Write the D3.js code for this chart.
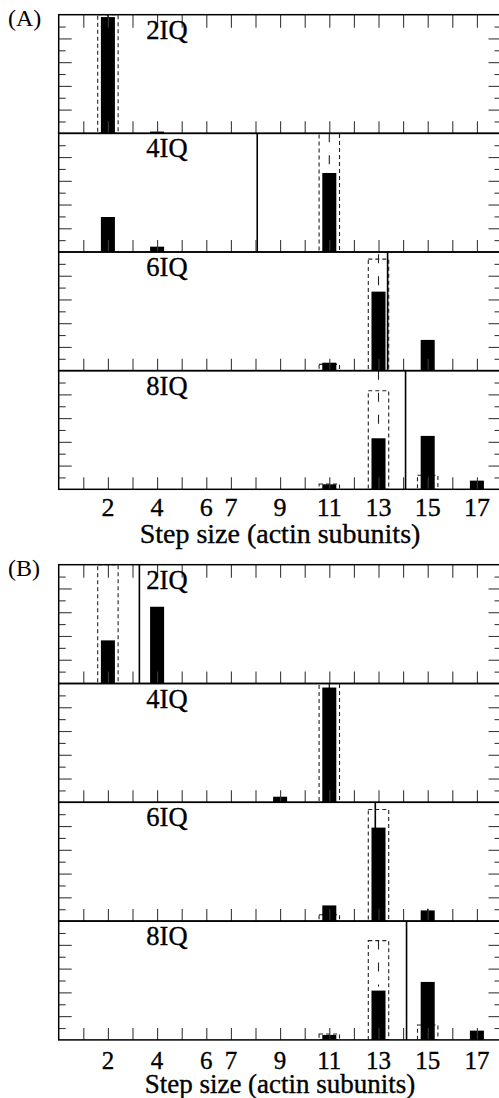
<!DOCTYPE html>
<html><head><meta charset="utf-8">
<script src="https://cdn.jsdelivr.net/npm/d3@7"></script>
<style>html,body{margin:0;padding:0;background:#fff;} svg{display:block;}</style>
</head><body>
<script>
// ---- data ----
const steps = d3.range(1, 18);
const tickLabels = [2, 4, 6, 7, 9, 11, 13, 15, 17];
const constructs = ["2IQ", "4IQ", "6IQ", "8IQ"];
const panelNames = ["(A)", "(B)"];

// measured step-size distributions (black bars)
const barsA = [
  [{s: 2, v: 0.98}, {s: 4, v: 0.015}],
  [{s: 2, v: 0.295}, {s: 4, v: 0.045}, {s: 11, v: 0.666}],
  [{s: 11, v: 0.067}, {s: 13, v: 0.666}, {s: 15, v: 0.259}],
  [{s: 11, v: 0.042}, {s: 13, v: 0.43}, {s: 15, v: 0.45}, {s: 17, v: 0.073}]
];
const barsB = [
  [{s: 2, v: 0.363}, {s: 4, v: 0.646}],
  [{s: 9, v: 0.047}, {s: 11, v: 0.966}],
  [{s: 11, v: 0.132}, {s: 13, v: 0.787}, {s: 15, v: 0.09}],
  [{s: 11, v: 0.042}, {s: 13, v: 0.415}, {s: 15, v: 0.488}, {s: 17, v: 0.078}]
];
// model predictions (dashed boxes)
const modelA = [
  [{s: 2, v: 1.0}],
  [{s: 11, v: 1.0}],
  [{s: 11, v: 0.053}, {s: 13, v: 0.94}],
  [{s: 11, v: 0.045}, {s: 13, v: 0.83}, {s: 15, v: 0.118}]
];
const modelB = [
  [{s: 2, v: 1.0}],
  [{s: 11, v: 1.0}],
  [{s: 11, v: 0.054}, {s: 13, v: 0.94}],
  [{s: 11, v: 0.05}, {s: 13, v: 0.836}, {s: 15, v: 0.126}]
];
// model error ranges (long-dash)
const modelErrA = [[], [{s: 11, lo: 0.73, hi: 1.0}], [{s: 13, lo: 0.68, hi: 0.98}], [{s: 13, lo: 0.45, hi: 1.0}]];
const modelErrB = [[], [], [], [{s: 13, lo: 0.45, hi: 0.836}]];
// data error bars (solid)
const dataErrA = [[{s: 2, lo: 0.96, hi: 1.0}], [], [], []];
const dataErrB = [[], [{s: 11, lo: 0.95, hi: 1.0}], [{s: 15, lo: 0.08, hi: 0.105}], []];
// vertical reference lines
const vlineA = [null, 8.07, 13.37, 14.1];
const vlineB = [3.28, null, 12.87, 14.14];

// ---- layout ----
const W = 499, H = 1098;
const panelTop = [14.7, 564.7];
const subH = [118.65, 118.8];
const tickLabelY = [515.5, 1069];
const axisLabelY = [543, 1092.5];
const tickFont = [26, 25];
const titleFont = [28, 27];
const panelLabelY = [26, 576];
const barW = 0.57, modelW = 0.83;

const x = d3.scaleLinear().domain([0, 18]).range([58.7, 501.5]);
const svg = d3.select("body").append("svg").attr("width", W).attr("height", H);
const defs = svg.append("defs");
const font = "'Liberation Serif', 'Times New Roman', serif";
const textStroke = sel => sel.attr("stroke", "#000").attr("stroke-width", 0.35);

const allBars = [barsA, barsB], allModel = [modelA, modelB];
const allModelErr = [modelErrA, modelErrB], allDataErr = [dataErrA, dataErrB];
const allVline = [vlineA, vlineB];

panelNames.forEach((pname, p) => {
  constructs.forEach((cname, i) => {
    const top = panelTop[p] + i * subH[p];
    const bot = top + subH[p];
    const y = d3.scaleLinear().domain([0, 1]).range([bot, top]);
    const g = svg.append("g");
    const cid = `clip${p}${i}`;
    defs.append("clipPath").attr("id", cid).append("rect")
      .attr("x", x(0)).attr("y", top).attr("width", x(18) - x(0)).attr("height", bot - top);
    const c = g.append("g").attr("clip-path", `url(#${cid})`);

    // ticks
    const tickStyle = sel => sel.selectAll(".tick line").attr("stroke", "#3a3a3a").attr("stroke-width", 1.1);
    const ax = g.append("g").attr("transform", `translate(0,${bot})`)
      .call(d3.axisBottom(x).tickValues(steps).tickSize(-12).tickFormat(""));
    ax.select(".domain").remove(); tickStyle(ax);
    if (i === 0) {
      const at = g.append("g").attr("transform", `translate(0,${top})`)
        .call(d3.axisTop(x).tickValues(steps).tickSize(-13).tickFormat(""));
      at.select(".domain").remove(); tickStyle(at);
    }
    const major = [0.2, 0.4, 0.6, 0.8], minor = [0.1, 0.3, 0.5, 0.7, 0.9];
    [[major, 13], [minor, 7]].forEach(([vals, len]) => {
      const l = g.append("g").attr("transform", `translate(${x(0)},0)`)
        .call(d3.axisLeft(y).tickValues(vals).tickSize(-len).tickFormat(""));
      l.select(".domain").remove(); tickStyle(l);
      const r = g.append("g").attr("transform", `translate(${x(18)},0)`)
        .call(d3.axisRight(y).tickValues(vals).tickSize(-len).tickFormat(""));
      r.select(".domain").remove(); tickStyle(r);
    });

    // model dashed boxes
    c.selectAll(".model").data(allModel[p][i]).join("rect")
      .attr("x", d => x(d.s - modelW / 2)).attr("width", x(modelW) - x(0))
      .attr("y", d => y(d.v)).attr("height", d => y(0) - y(d.v))
      .attr("fill", "none").attr("stroke", "#222").attr("stroke-width", 1.1)
      .attr("stroke-dasharray", "4,3");
    // model error (long dash)
    c.selectAll(".merr").data(allModelErr[p][i]).join("line")
      .attr("x1", d => x(d.s)).attr("x2", d => x(d.s))
      .attr("y1", d => y(d.hi)).attr("y2", d => y(d.lo))
      .attr("stroke", "#222").attr("stroke-width", 1.1).attr("stroke-dasharray", "9,13");
    // vertical reference line
    if (allVline[p][i] !== null) {
      c.append("line").attr("x1", x(allVline[p][i])).attr("x2", x(allVline[p][i]))
        .attr("y1", top).attr("y2", bot).attr("stroke", "#000").attr("stroke-width", 1.6);
    }
    // bars
    c.selectAll(".bar").data(allBars[p][i]).join("rect")
      .attr("x", d => x(d.s - barW / 2)).attr("width", x(barW) - x(0))
      .attr("y", d => y(d.v)).attr("height", d => y(0) - y(d.v))
      .attr("fill", "#000");
    // data error bars
    c.selectAll(".derr").data(allDataErr[p][i]).join("line")
      .attr("x1", d => x(d.s)).attr("x2", d => x(d.s))
      .attr("y1", d => y(d.hi)).attr("y2", d => y(d.lo))
      .attr("stroke", "#000").attr("stroke-width", 1.2);

    // frame
    g.append("rect").attr("x", x(0)).attr("y", top).attr("width", x(18) - x(0)).attr("height", bot - top)
      .attr("fill", "none").attr("stroke", "#000").attr("stroke-width", 1.5);

    // construct label
    g.append("text").attr("x", x(4.4)).attr("y", top + 24)
      .attr("text-anchor", "middle").attr("font-family", font).attr("font-size", 26.5)
      .attr("fill", "#000").call(textStroke).text(cname);
  });

  // x tick labels
  svg.append("g").selectAll("text").data(tickLabels).join("text")
    .attr("x", d => x(d)).attr("y", tickLabelY[p])
    .attr("text-anchor", "middle").attr("font-family", font).attr("font-size", tickFont[p])
    .attr("fill", "#000").call(textStroke).text(d => d);
  // axis title
  svg.append("text").attr("x", 280).attr("y", axisLabelY[p])
    .attr("text-anchor", "middle").attr("font-family", font).attr("font-size", titleFont[p])
    .attr("fill", "#000").call(textStroke).text("Step size (actin subunits)");
  // panel label
  svg.append("text").attr("x", 8).attr("y", panelLabelY[p])
    .attr("font-family", font).attr("font-size", 24)
    .attr("fill", "#000").text(pname);
});
</script>
</body></html>
